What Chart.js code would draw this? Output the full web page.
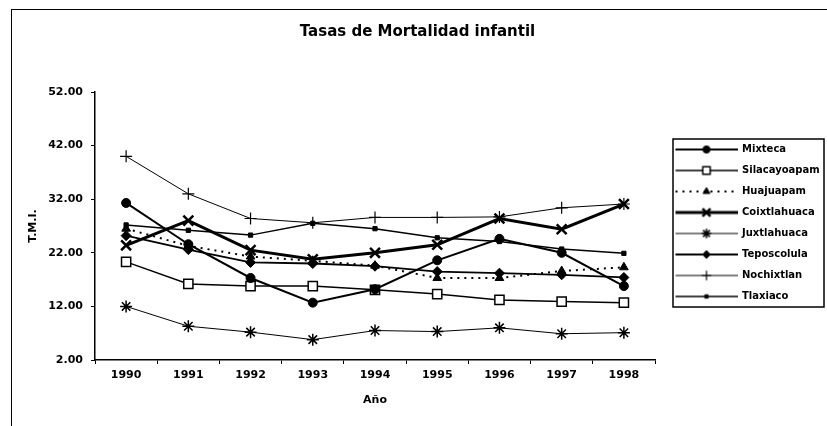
<!DOCTYPE html>
<html><head><meta charset="utf-8">
<script src="https://cdn.jsdelivr.net/npm/chart.js@4.4.1/dist/chart.umd.min.js"></script>
<style>
html,body{margin:0;padding:0;background:#fff;}
#wrap{position:relative;width:827px;height:426px;background:#fff;}
#frame{position:absolute;left:11px;top:9px;width:816px;height:417px;border-left:1.5px solid #000;border-top:1.5px solid #000;pointer-events:none;}
</style></head><body>
<div id="wrap"><canvas id="c" width="827" height="426"></canvas><div id="frame"></div></div>
<script>
const years = ['1990','1991','1992','1993','1994','1995','1996','1997','1998'];
const yTickLabels = ['2.00','12.00','22.00','32.00','42.00','52.00'];
const seriesNames = ['Mixteca','Silacayoapam','Huajuapam','Coixtlahuaca','Juxtlahuaca','Teposcolula','Nochixtlan','Tlaxiaco'];
const mixteca      = [31.3, 23.6, 17.3, 12.7, 15.2, 20.6, 24.6, 22.0, 15.8];
const silacayoapam = [20.3, 16.2, 15.8, 15.8, 15.1, 14.3, 13.2, 12.9, 12.7];
const huajuapam    = [26.5, 23.3, 21.3, 20.5, 19.6, 17.3, 17.3, 18.6, 19.3];
const coixtlahuaca = [23.4, 28.0, 22.5, 20.8, 22.0, 23.5, 28.4, 26.4, 31.1];
const juxtlahuaca  = [12.0, 8.3, 7.2, 5.8, 7.5, 7.3, 8.0, 6.9, 7.1];
const teposcolula  = [25.2, 22.6, 20.2, 20.0, 19.5, 18.5, 18.2, 17.9, 17.4];
const nochixtlan   = [40.0, 33.0, 28.4, 27.6, 28.6, 28.6, 28.7, 30.4, 31.1];
const tlaxiaco     = [27.2, 26.2, 25.3, 27.5, 26.5, 24.8, 24.1, 22.7, 21.9];

const FONT = "'DejaVu Sans', sans-serif";
const K = '#000';

function ds(label, data, o) {
  return Object.assign({
    label, data, borderColor: K, pointBorderColor: K, pointBackgroundColor: K,
    fill: false, tension: 0, borderWidth: 1.5, pointBorderWidth: 1, pointRadius: 4.5
  }, o);
}
const datasets = [
  ds(seriesNames[0], mixteca, {borderWidth: 2, pointStyle: 'circle', pointRadius: 4.5}),
  ds(seriesNames[1], silacayoapam, {borderWidth: 1.5, pointStyle: 'rect', pointRadius: 6.5, pointBackgroundColor: '#fff', pointBorderWidth: 1.5}),
  ds(seriesNames[2], huajuapam, {borderWidth: 2, borderDash: [2, 5], pointStyle: 'triangle', pointRadius: 5}),
  ds(seriesNames[3], coixtlahuaca, {borderWidth: 3, pointStyle: 'crossRot', pointRadius: 7, pointBorderWidth: 2.5}),
  ds(seriesNames[4], juxtlahuaca, {borderWidth: 1, pointStyle: 'star', pointRadius: 6, pointBorderWidth: 1.5}),
  ds(seriesNames[5], teposcolula, {borderWidth: 1.8, pointStyle: 'rectRot', pointRadius: 5}),
  ds(seriesNames[6], nochixtlan, {borderWidth: 1, pointStyle: 'cross', pointRadius: 6, pointBorderWidth: 1.2}),
  ds(seriesNames[7], tlaxiaco, {borderWidth: 1.5, pointStyle: 'rect', pointRadius: 3})
];

function makeSample(d) {
  const cv = document.createElement('canvas');
  cv.width = 72; cv.height = 14;
  const g = cv.getContext('2d');
  g.strokeStyle = K; g.lineWidth = d.borderWidth;
  g.setLineDash(d.borderDash || []);
  g.beginPath(); g.moveTo(10, 7); g.lineTo(72, 7); g.stroke();
  g.setLineDash([]);
  g.fillStyle = d.pointBackgroundColor; g.strokeStyle = K; g.lineWidth = d.pointBorderWidth;
  const opts = {pointStyle: d.pointStyle, radius: d.pointRadius * 0.8, rotation: 0, borderWidth: d.pointBorderWidth};
  if (Chart.helpers && Chart.helpers.drawPoint) {
    Chart.helpers.drawPoint(g, opts, 41, 7);
  } else {
    g.beginPath(); g.arc(41, 7, 3, 0, Math.PI * 2); g.fill();
  }
  return cv;
}
const samples = datasets.map(makeSample);

const legendFrame = {
  id: 'legendFrame',
  afterDraw(chart) {
    const lg = chart.legend;
    if (!lg || !lg.legendHitBoxes || !lg.legendHitBoxes.length) return;
    const hb = lg.legendHitBoxes;
    const f = hb[0], l = hb[hb.length - 1];
    const ctx = chart.ctx;
    ctx.save();
    ctx.lineWidth = 1.5; ctx.strokeStyle = K;
    const x0 = f.left + 7, y0 = f.top - 5.5, x1 = lg.right - 1, y1 = l.top + l.height + 5.5;
    ctx.strokeRect(x0, y0, x1 - x0, y1 - y0);
    ctx.restore();
  }
};

new Chart(document.getElementById('c'), {
  type: 'line',
  data: {labels: years, datasets},
  plugins: [legendFrame],
  options: {
    responsive: false, animation: false, devicePixelRatio: 1,
    layout: {padding: {left: 10, right: 2, top: 20, bottom: 0}},
    plugins: {
      title: {display: true, text: 'Tasas de Mortalidad infantil', color: K,
        font: {family: FONT, size: 15, weight: 'bold'}, padding: {top: 3, bottom: 51}},
      legend: {
        position: 'right', align: 'center', maxWidth: 170,
        labels: {
          usePointStyle: true, pointStyleWidth: 71, padding: 11, color: K,
          font: {family: FONT, size: 10, weight: 'bold'},
          generateLabels: (chart) => chart.data.datasets.map((d, i) => ({
            text: d.label, pointStyle: samples[i], fillStyle: K, strokeStyle: K,
            lineWidth: 0, hidden: false, datasetIndex: i, fontColor: K
          }))
        }
      },
      tooltip: {enabled: false}
    },
    scales: {
      x: {
        type: 'category', offset: true,
        grid: {offset: true, drawOnChartArea: false, drawTicks: true, tickLength: 4, color: K, lineWidth: 1},
        border: {display: true, color: K, width: 1.5},
        ticks: {color: K, padding: 5, font: {family: FONT, size: 11, weight: 'bold'}, maxRotation: 0},
        title: {display: true, text: 'Año', color: K, font: {family: FONT, size: 11, weight: 'bold'}, padding: {top: 0, bottom: 19}},
        afterFit: (s) => { s.height = 66; }
      },
      y: {
        min: 2, max: 52,
        grid: {drawOnChartArea: false, drawTicks: true, tickLength: 4, color: K, lineWidth: 1},
        border: {display: true, color: K, width: 1.5},
        ticks: {stepSize: 10, color: K, padding: 8, font: {family: FONT, size: 11, weight: 'bold'},
          callback: (v, i) => yTickLabels[i]},
        title: {display: true, text: 'T.M.I.', color: K, font: {family: FONT, size: 11, weight: 'bold'}, padding: {top: 17, bottom: 0}},
        afterFit: (s) => { s.width = 85; }
      }
    }
  }
});
</script>
</body></html>
